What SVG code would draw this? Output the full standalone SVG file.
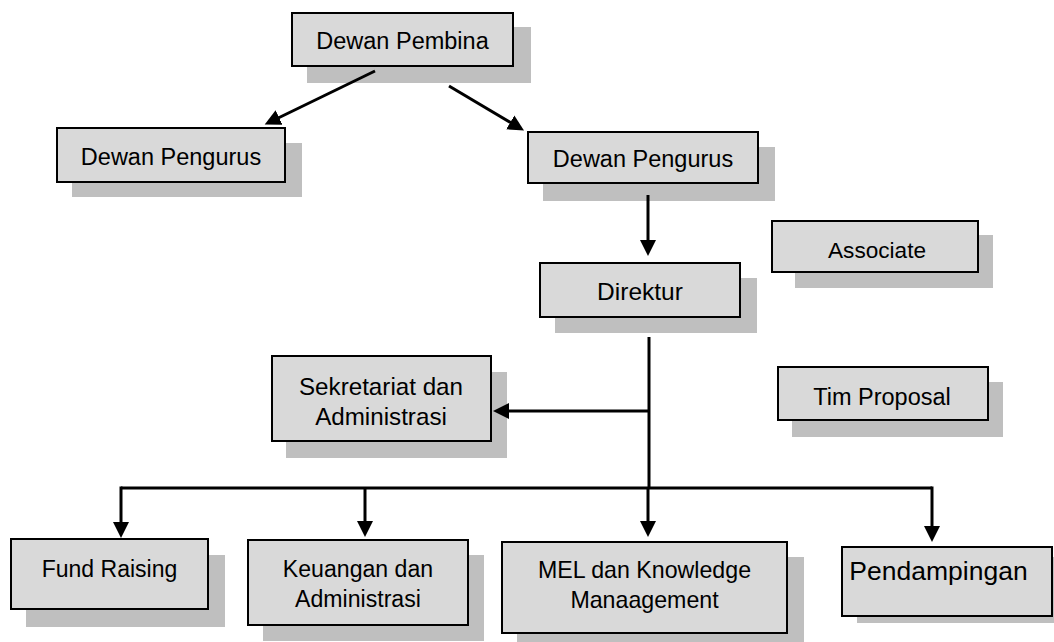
<svg xmlns="http://www.w3.org/2000/svg" width="1054" height="642" viewBox="0 0 1054 642">
<style>
.box{fill:#d9d9d9;stroke:#000;stroke-width:2}
.sh{fill:#bfbfbf}
.t{font-family:"Liberation Sans",Arial,sans-serif;font-size:23.5px;fill:#000;text-anchor:middle}
.c{fill:none;stroke:#000;stroke-width:3}
</style>
<defs>
<marker id="ah" markerUnits="userSpaceOnUse" markerWidth="18" markerHeight="18" refX="9" refY="8" orient="auto" viewBox="0 0 18 16">
<path d="M0,0 L16,8 L0,16 Z" fill="#000"/>
</marker>
</defs>
<rect width="1054" height="642" fill="#fff"/>
<g id="dewan-pembina">
<rect class="sh" x="307" y="27" width="224" height="56"/>
<rect class="box" x="292" y="13" width="221" height="53"/>
<text class="t" x="402.5" y="49">Dewan Pembina</text>
</g>
<g id="dewan-pengurus-1">
<rect class="sh" x="72" y="143" width="230" height="54"/>
<rect class="box" x="57" y="128" width="228" height="54"/>
<text class="t" x="171" y="165">Dewan Pengurus</text>
</g>
<g id="dewan-pengurus-2">
<rect class="sh" x="543" y="147" width="232" height="54"/>
<rect class="box" x="528" y="132" width="230" height="51"/>
<text class="t" x="643" y="167">Dewan Pengurus</text>
</g>
<g id="direktur">
<rect class="sh" x="555" y="278" width="202" height="55"/>
<rect class="box" x="540" y="263" width="200" height="54"/>
<text class="t" x="640" y="300" style="font-size:24.5px">Direktur</text>
</g>
<g id="associate">
<rect class="sh" x="795" y="235" width="198" height="53"/>
<rect class="box" x="772" y="221" width="206" height="51"/>
<text class="t" x="877" y="258" style="font-size:22.6px">Associate</text>
</g>
<g id="tim-proposal">
<rect class="sh" x="792" y="382" width="211" height="55"/>
<rect class="box" x="778" y="367" width="210" height="53"/>
<text class="t" x="882" y="405">Tim Proposal</text>
</g>
<g id="sekretariat">
<rect class="sh" x="286" y="372" width="221" height="86"/>
<rect class="box" x="272" y="356" width="219" height="85"/>
<text class="t" x="381" y="395" style="font-size:24.2px">Sekretariat dan</text>
<text class="t" x="381" y="425" style="font-size:24.2px">Administrasi</text>
</g>
<g id="fund-raising">
<rect class="sh" x="26" y="555" width="199" height="72"/>
<rect class="box" x="11" y="539" width="197" height="70"/>
<text class="t" x="109.5" y="577" style="font-size:23px">Fund Raising</text>
</g>
<g id="keuangan">
<rect class="sh" x="263" y="555" width="221" height="86"/>
<rect class="box" x="248" y="540" width="220" height="85"/>
<text class="t" x="358" y="577" style="font-size:23.1px">Keuangan dan</text>
<text class="t" x="358" y="607" style="font-size:23.1px">Administrasi</text>
</g>
<g id="mel">
<rect class="sh" x="517" y="557" width="287" height="90"/>
<rect class="box" x="502" y="542" width="285" height="91"/>
<text class="t" x="644.5" y="578" style="font-size:23.2px">MEL dan Knowledge</text>
<text class="t" x="644.5" y="608" style="font-size:23.2px">Manaagement</text>
</g>
<g id="pendampingan">
<rect class="sh" x="857" y="557" width="200" height="66"/>
<rect class="box" x="842" y="547" width="210" height="69"/>
<text class="t" x="938.5" y="580" style="font-size:26.5px">Pendampingan</text>
</g>
<g id="connectors">
<line class="c" x1="375" y1="71" x2="271" y2="121.5" marker-end="url(#ah)"/>
<line class="c" x1="449" y1="86" x2="518" y2="127" marker-end="url(#ah)"/>
<line class="c" x1="648" y1="195" x2="648" y2="249" marker-end="url(#ah)"/>
<line class="c" x1="649" y1="337" x2="649" y2="489"/>
<line class="c" x1="650" y1="411" x2="500" y2="411" marker-end="url(#ah)"/>
<polyline class="c" points="121,488 932,488"/>
<line class="c" x1="121" y1="486.5" x2="121" y2="531" marker-end="url(#ah)"/>
<line class="c" x1="365" y1="488" x2="365" y2="530" marker-end="url(#ah)"/>
<line class="c" x1="648" y1="488" x2="648" y2="530" marker-end="url(#ah)"/>
<line class="c" x1="932" y1="486.5" x2="932" y2="535" marker-end="url(#ah)"/>
</g>
</svg>
